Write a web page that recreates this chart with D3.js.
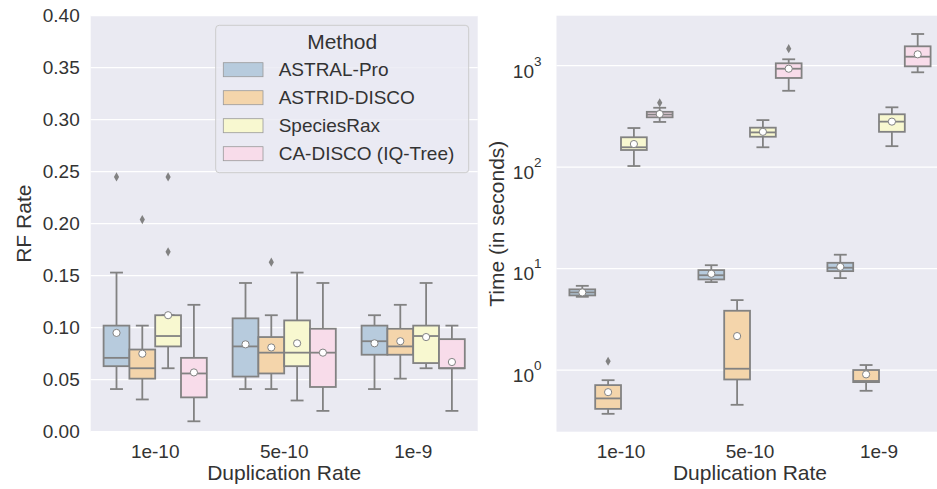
<!DOCTYPE html>
<html>
<head>
<meta charset="utf-8">
<script src="https://cdn.jsdelivr.net/npm/d3@7"></script>
<style>
  body { margin: 0; background: #fff; }
  svg { display: block; font-family: "Liberation Sans", Arial, sans-serif; }
</style>
</head>
<body>
<svg id="chart" width="937" height="489"></svg>
<script>
const rates = ['1e-10', '5e-10', '1e-9'];
const methods = ['ASTRAL-Pro', 'ASTRID-DISCO', 'SpeciesRax', 'CA-DISCO (IQ-Tree)'];
const colors = ['#b7cbdd', '#f4d5ab', '#f8f8d0', '#f8dcea'];

// RF rate, indexed [rate][method]
const rfLow  = [[0.041, 0.031, 0.061, 0.010], [0.041, 0.041, 0.030, 0.020], [0.041, 0.051, 0.061, 0.020]];
const rfQ1   = [[0.063, 0.051, 0.082, 0.033], [0.053, 0.056, 0.063, 0.043], [0.074, 0.074, 0.066, 0.061]];
const rfMed  = [[0.071, 0.061, 0.092, 0.056], [0.082, 0.076, 0.076, 0.076], [0.087, 0.082, 0.092, 0.061]];
const rfQ3   = [[0.102, 0.079, 0.112, 0.071], [0.109, 0.091, 0.107, 0.099], [0.102, 0.099, 0.102, 0.089]];
const rfHigh = [[0.153, 0.102, 0.112, 0.122], [0.143, 0.112, 0.153, 0.143], [0.112, 0.122, 0.143, 0.102]];
const rfMean = [[0.095, 0.075, 0.112, 0.057], [0.084, 0.081, 0.085, 0.076], [0.085, 0.087, 0.091, 0.067]];
const rfOut  = [[[0.245], [0.204], [0.245, 0.173], []], [[], [0.163], [], []], [[], [], [], []]];
const rfTicks = [0, 0.05, 0.10, 0.15, 0.20, 0.25, 0.30, 0.35, 0.40];

// running time in seconds, indexed [rate][method]
const tLow  = [[5.27, 0.37, 102.6, 279], [7.36, 0.454, 157, 566], [8.06, 0.624, 161, 861]];
const tQ1   = [[5.44, 0.414, 147.6, 310], [7.82, 0.807, 199.5, 757], [9.44, 0.76, 223, 986]];
const tMed  = [[5.82, 0.525, 157, 330], [8.6, 1.03, 220, 934], [10.2, 0.78, 281, 1227]];
const tQ3   = [[6.24, 0.71, 197, 351], [9.66, 3.84, 245, 1056], [11.4, 1.0, 332, 1553]];
const tHigh = [[6.76, 0.794, 243, 385], [10.8, 4.89, 291, 1157], [13.7, 1.12, 389, 2054]];
const tMean = [[5.82, 0.605, 169, 334], [8.89, 2.16, 223, 934], [10.4, 0.906, 281, 1295]];
const tOut  = [[[], [1.22], [], [431]], [[], [], [], [1472]], [[], [], [], []]];
const tTicks = [1, 10, 100, 1000];

const gray = '#828282';
const textColor = '#333';
const plotTop = 15.7, plotBottom = 431.7;

const svg = d3.select('#chart');

function drawPanel(x0, x1, y, ticks, stats, isLog) {
  const g = svg.append('g');
  const x = d3.scaleBand().domain(rates).range([x0, x1]);
  const step = x.step();
  const hue = d3.scaleBand().domain(methods).range([-0.4 * step, 0.4 * step]);
  const bw = hue.bandwidth();

  g.append('rect')
    .attr('x', x0).attr('y', plotTop)
    .attr('width', x1 - x0).attr('height', plotBottom - plotTop)
    .attr('fill', '#eaeaf2');

  g.selectAll('.grid').data(ticks).enter().append('line')
    .attr('x1', x0).attr('x2', x1)
    .attr('y1', d => y(d)).attr('y2', d => y(d))
    .attr('stroke', '#fff').attr('stroke-width', 1.3);

  const boxes = [];
  rates.forEach((r, i) => {
    methods.forEach((m, j) => {
      boxes.push({
        cx: x(r) + step / 2 + hue(m) + bw / 2,
        color: colors[j],
        lo: stats.lo[i][j], q1: stats.q1[i][j], med: stats.med[i][j],
        q3: stats.q3[i][j], hi: stats.hi[i][j], mean: stats.mean[i][j],
        out: stats.out[i][j]
      });
    });
  });

  const b = g.selectAll('.box').data(boxes).enter().append('g');
  b.append('line')
    .attr('x1', d => d.cx).attr('x2', d => d.cx)
    .attr('y1', d => y(d.lo)).attr('y2', d => y(d.q1));
  b.append('line')
    .attr('x1', d => d.cx).attr('x2', d => d.cx)
    .attr('y1', d => y(d.q3)).attr('y2', d => y(d.hi));
  b.append('line')
    .attr('x1', d => d.cx - bw / 4).attr('x2', d => d.cx + bw / 4)
    .attr('y1', d => y(d.lo)).attr('y2', d => y(d.lo));
  b.append('line')
    .attr('x1', d => d.cx - bw / 4).attr('x2', d => d.cx + bw / 4)
    .attr('y1', d => y(d.hi)).attr('y2', d => y(d.hi));
  b.append('rect')
    .attr('x', d => d.cx - bw / 2).attr('width', bw)
    .attr('y', d => y(d.q3)).attr('height', d => Math.max(0, y(d.q1) - y(d.q3)))
    .attr('fill', d => d.color);
  b.append('line')
    .attr('x1', d => d.cx - bw / 2).attr('x2', d => d.cx + bw / 2)
    .attr('y1', d => y(d.med)).attr('y2', d => y(d.med));
  b.selectAll('line, rect').attr('stroke', gray).attr('stroke-width', 1.8);

  b.selectAll('.flier').data(d => d.out.map(v => ({cx: d.cx, v: v}))).enter().append('path')
    .attr('d', d => {
      const cy = y(d.v);
      return `M${d.cx},${cy - 4.6}L${d.cx + 2.6},${cy}L${d.cx},${cy + 4.6}L${d.cx - 2.6},${cy}Z`;
    })
    .attr('fill', gray);

  b.append('circle')
    .attr('cx', d => d.cx).attr('cy', d => y(d.mean))
    .attr('r', 3.6)
    .attr('fill', '#fff').attr('stroke', gray).attr('stroke-width', 1);

  // x axis
  const xa = g.append('g').attr('transform', `translate(0,${plotBottom})`)
    .call(d3.axisBottom(x).tickSize(0));
  xa.select('.domain').remove();
  xa.selectAll('text')
    .attr('y', 26.8).attr('dy', null)
    .attr('font-size', 19).attr('font-family', null).attr('fill', textColor);

  g.append('text')
    .attr('x', (x0 + x1) / 2).attr('y', 480)
    .attr('text-anchor', 'middle')
    .attr('font-size', 21).attr('fill', textColor)
    .text('Duplication Rate');

  // y axis
  const ya = g.append('g').attr('transform', `translate(${x0},0)`)
    .call(d3.axisLeft(y).tickValues(ticks).tickSize(0).tickPadding(isLog ? 15 : 11)
      .tickFormat(isLog ? d => d : d3.format('.2f')));
  ya.select('.domain').remove();
  ya.selectAll('text')
    .attr('font-size', 19).attr('font-family', null).attr('fill', textColor);
  if (isLog) {
    ya.selectAll('text').each(function(d) {
      const t = d3.select(this).text('').attr('dy', '0.6em');
      t.append('tspan').text('10');
      t.append('tspan').attr('dy', -12).attr('font-size', 13.5).text(Math.round(Math.log10(d)));
    });
  }
  return g;
}

const yRF = d3.scaleLinear().domain([0, 0.4]).range([plotBottom, plotTop]);
drawPanel(90.7, 477.7, yRF, rfTicks,
  {lo: rfLow, q1: rfQ1, med: rfMed, q3: rfQ3, hi: rfHigh, mean: rfMean, out: rfOut}, false);

const yT = d3.scaleLog().domain([Math.pow(10, -0.608), Math.pow(10, 3.493)]).range([plotBottom, plotTop]);
drawPanel(556.5, 943.5, yT, tTicks,
  {lo: tLow, q1: tQ1, med: tMed, q3: tQ3, hi: tHigh, mean: tMean, out: tOut}, true);

svg.append('text')
  .attr('transform', `translate(24,${(plotTop + plotBottom) / 2}) rotate(-90)`)
  .attr('text-anchor', 'middle').attr('dy', '0.35em')
  .attr('font-size', 21).attr('fill', textColor)
  .text('RF Rate');

svg.append('text')
  .attr('transform', `translate(497,${(plotTop + plotBottom) / 2}) rotate(-90)`)
  .attr('text-anchor', 'middle').attr('dy', '0.35em')
  .attr('font-size', 21).attr('fill', textColor)
  .text('Time (in seconds)');

// legend
const lg = svg.append('g').attr('transform', 'translate(215.7,25.3)');
lg.append('rect')
  .attr('width', 253).attr('height', 147.4).attr('rx', 3.5)
  .attr('fill', '#eaeaf2').attr('fill-opacity', 0.8)
  .attr('stroke', '#cccccc').attr('stroke-width', 1);
lg.append('text')
  .attr('x', 126.5).attr('y', 23.5)
  .attr('text-anchor', 'middle')
  .attr('font-size', 21).attr('fill', textColor)
  .text('Method');
const items = lg.selectAll('.item').data(methods).enter().append('g')
  .attr('transform', (d, i) => `translate(0,${44.4 + i * 28})`);
items.append('rect')
  .attr('x', 7.6).attr('y', -7).attr('width', 39.7).attr('height', 14)
  .attr('fill', (d, i) => colors[i])
  .attr('stroke', '#999').attr('stroke-width', 0.8);
items.append('text')
  .attr('x', 63).attr('dy', '0.35em')
  .attr('font-size', 19).attr('fill', textColor)
  .text(d => d);
</script>
</body>
</html>
